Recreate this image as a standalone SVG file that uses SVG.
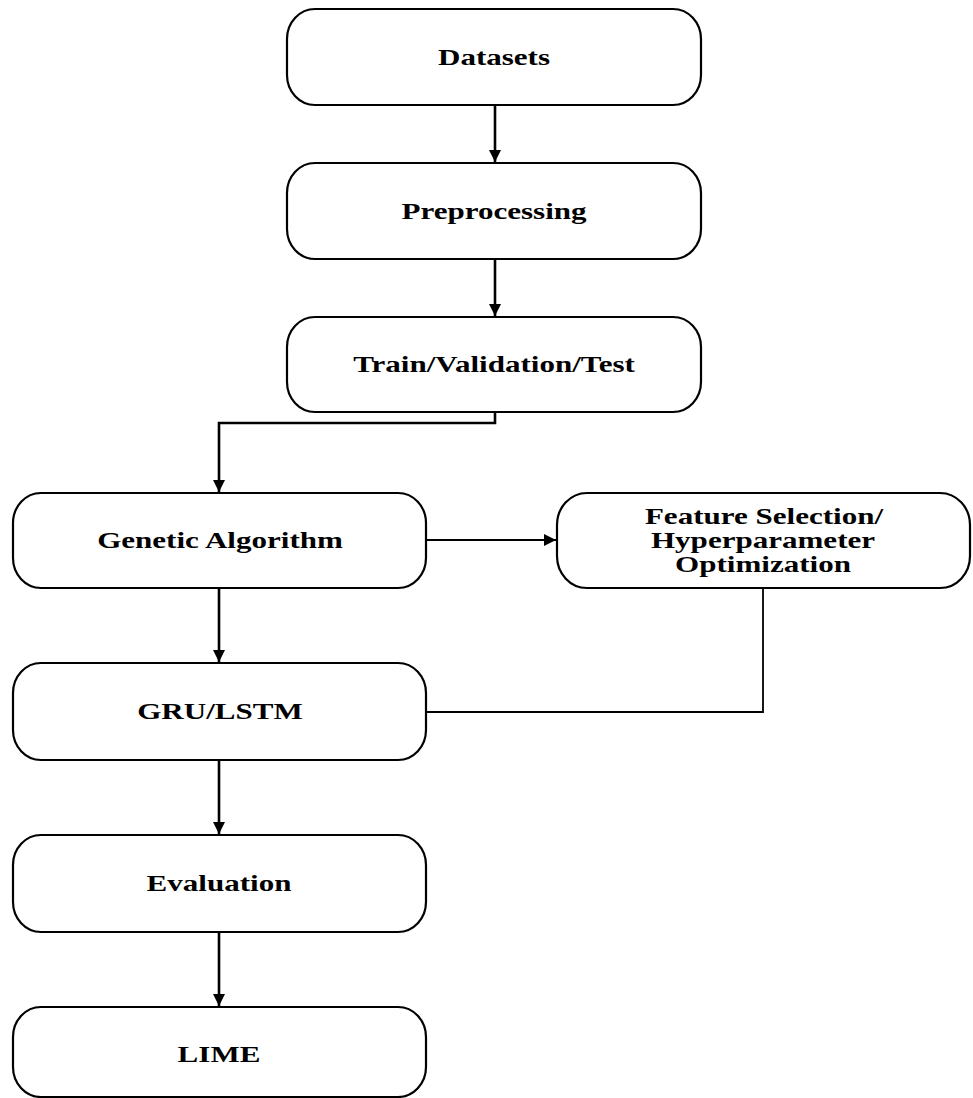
<svg xmlns="http://www.w3.org/2000/svg" width="973" height="1098" viewBox="0 0 973 1098">
<style>
.box{fill:#fff;stroke:#000;stroke-width:2.2}
.lbl{font-family:"Liberation Serif","Times New Roman",serif;font-weight:bold;font-size:23px;fill:#000;text-anchor:middle}
.con{fill:none;stroke:#000;stroke-width:2.6}
.thin{fill:none;stroke:#000;stroke-width:1.8}
</style>
<defs>
<marker id="ah" markerUnits="userSpaceOnUse" markerWidth="14" markerHeight="14" refX="12" refY="6" orient="auto">
<path d="M0,0 L12,6 L0,12 Z" fill="#000"/>
</marker>
</defs>
<rect width="973" height="1098" fill="#fff"/>
<g id="connectors">
<path class="con" d="M495,105 V162" marker-end="url(#ah)"/>
<path class="con" d="M495,259 V316" marker-end="url(#ah)"/>
<path class="con" d="M495,412 V423 H219 V492" marker-end="url(#ah)"/>
<path class="thin" d="M426,540 H556" marker-end="url(#ah)"/>
<path class="con" d="M219,588 V662" marker-end="url(#ah)"/>
<path class="thin" d="M763,588 V712 H425"/>
<path class="con" d="M219,760 V834" marker-end="url(#ah)"/>
<path class="con" d="M219,932 V1006" marker-end="url(#ah)"/>
</g>
<g id="datasets">
<rect class="box" x="287" y="9" width="414" height="96" rx="28" ry="30"/>
<text class="lbl" transform="matrix(1.35 0 0 1 494 0)" x="0" y="65">Datasets</text>
</g>
<g id="preprocessing">
<rect class="box" x="287" y="163" width="414" height="96" rx="28" ry="30"/>
<text class="lbl" transform="matrix(1.35 0 0 1 494 0)" x="0" y="219">Preprocessing</text>
</g>
<g id="split">
<rect class="box" x="287" y="317" width="414" height="95" rx="28" ry="30"/>
<text class="lbl" transform="matrix(1.35 0 0 1 494 0)" x="0" y="372">Train/Validation/Test</text>
</g>
<g id="genetic">
<rect class="box" x="13" y="493" width="413" height="95" rx="28" ry="30"/>
<text class="lbl" transform="matrix(1.35 0 0 1 220 0)" x="0" y="548">Genetic Algorithm</text>
</g>
<g id="feature">
<rect class="box" x="557" y="493" width="413" height="95" rx="30" ry="32"/>
<text class="lbl" transform="matrix(1.35 0 0 1 764 0)" x="0" y="524">Feature Selection/</text>
<text class="lbl" transform="matrix(1.35 0 0 1 763 0)" x="0" y="548">Hyperparameter</text>
<text class="lbl" transform="matrix(1.35 0 0 1 763 0)" x="0" y="572">Optimization</text>
</g>
<g id="gru">
<rect class="box" x="13" y="663" width="413" height="97" rx="28" ry="30"/>
<text class="lbl" transform="matrix(1.35 0 0 1 220 0)" x="0" y="719">GRU/LSTM</text>
</g>
<g id="evaluation">
<rect class="box" x="13" y="835" width="413" height="97" rx="28" ry="30"/>
<text class="lbl" transform="matrix(1.35 0 0 1 219 0)" x="0" y="891">Evaluation</text>
</g>
<g id="lime">
<rect class="box" x="13" y="1007" width="413" height="90" rx="28" ry="30"/>
<text class="lbl" transform="matrix(1.35 0 0 1 219 0)" x="0" y="1062">LIME</text>
</g>
</svg>
